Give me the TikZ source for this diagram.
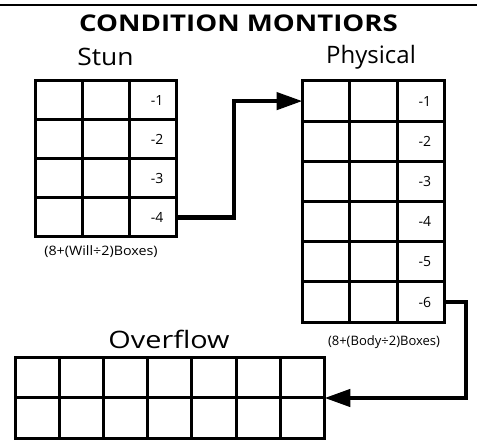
\documentclass[tikz,border=0pt]{standalone}
\usepackage{fontspec}
\setmainfont{Open Sans}
\usetikzlibrary{arrows.meta}
\tikzset{
  cell/.style={draw, line width=3pt, inner sep=0pt, outer sep=0pt},
  num/.style={anchor=east, inner sep=0pt, font=\fontsize{14}{14}\selectfont},
  conn/.style={line width=4.5pt},
  head/.style={-{Triangle[length=26pt,width=17pt]}},
  title/.style={font=\fontsize{23}{23}\selectfont\bfseries},
  gridlabel/.style={font=\fontsize{24}{24}\selectfont},
  note/.style={font=\fontsize{13}{13}\selectfont},
}
\begin{document}
\begin{tikzpicture}[x=1pt,y=-1pt]
\useasboundingbox (0,0) rectangle (477,443);
\draw[line width=2pt] (0,5) coordinate (r0) -- (477,5) coordinate (r1);
\node[title] (t) at (238.5,23) {\scalebox{1.2}[1]{CONDITION MONTIORS}};
% Stun grid
\node[gridlabel] (stunlbl) at (105.5,57) {\scalebox{1.1}[1]{Stun}};
\foreach \r in {1,...,4}{
  \foreach \c in {1,2,3}{
    \node[cell, minimum width=47pt, minimum height=39pt] (s-\r-\c)
      at ({35.5+47*(\c-0.5)},{81+39*(\r-0.5)}) {};
  }
  \node[num] (sn-\r) at ([xshift=-13pt]s-\r-3.east) {-\r};
}
\node[note] (stunnote) at (101,252) {\scalebox{1.1}[1]{(8+(Will÷2)Boxes)}};
% Physical grid
\node[gridlabel] (physlbl) at (371,57) {Physical};
\foreach \r in {1,...,6}{
  \foreach \c in {1,2,3}{
    \node[cell, minimum width=47.3pt, minimum height=40.2pt] (p-\r-\c)
      at ({302.5+47.3*(\c-0.5)},{81+40.2*(\r-0.5)}) {};
  }
  \node[num] (pn-\r) at ([xshift=-13pt]p-\r-3.east) {-\r};
}
\node[note] (physnote) at (384,342) {(8+(Body÷2)Boxes)};
% Overflow grid
\node[gridlabel] (ovlbl) at (169,339) {\scalebox{1.2}[1]{Overflow}};
\foreach \r in {1,2}{
  \foreach \c in {1,...,7}{
    \node[cell, minimum width=44.2pt, minimum height=40.5pt] (o-\r-\c)
      at ({15+44.2*(\c-0.5)},{357.5+40.5*(\r-0.5)}) {};
  }
}
% connectors
\coordinate (j1) at (234,0);
\coordinate (j2) at (466,0);
\coordinate (ovmid) at (o-1-7.south east);
\draw[conn, head] (s-4-3.east) -- (s-4-3.east -| j1) -- (j1 |- p-1-1.west) -- (p-1-1.west);
\draw[conn, head] (p-6-3.east) -- (p-6-3.east -| j2) -- (j2 |- ovmid) -- (ovmid);
\end{tikzpicture}
\end{document}
